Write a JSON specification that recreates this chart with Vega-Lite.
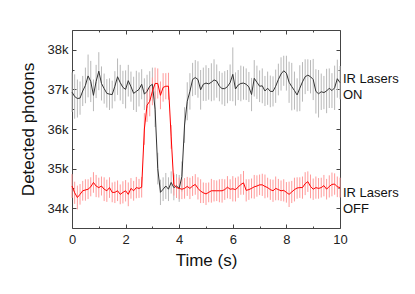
{
  "$schema": "https://vega.github.io/schema/vega-lite/v6.json",
  "width": 268,
  "height": 198,
  "autosize": {"type": "none"},
  "padding": {"left": 72, "top": 30, "right": 75, "bottom": 66},
  "background": "white",
  "config": {
    "view": {"stroke": null},
    "font": "Liberation Sans",
    "axis": {
      "grid": false,
      "domainColor": "#444444",
      "tickColor": "#444444",
      "labelColor": "#222222",
      "titleColor": "#111111",
      "labelFontSize": 13,
      "titleFontSize": 17,
      "titleFontWeight": "normal",
      "labelFlush": false
    }
  },
  "datasets": {
    "d": [
      {"t":0.0,"s":"ON","v":36930,"e":500},{"t":0.1,"s":"ON","v":36820,"e":560},{"t":0.2,"s":"ON","v":36770,"e":480},{"t":0.3,"s":"ON","v":36780,"e":420},{"t":0.4,"s":"ON","v":36960,"e":380},{"t":0.5,"s":"ON","v":37100,"e":450},{"t":0.6,"s":"ON","v":37340,"e":540},{"t":0.7,"s":"ON","v":37200,"e":520},{"t":0.8,"s":"ON","v":36850,"e":400},{"t":0.9,"s":"ON","v":37200,"e":420},
      {"t":1.0,"s":"ON","v":37460,"e":480},{"t":1.1,"s":"ON","v":37150,"e":430},{"t":1.2,"s":"ON","v":37020,"e":380},{"t":1.3,"s":"ON","v":36900,"e":360},{"t":1.4,"s":"ON","v":36880,"e":400},{"t":1.5,"s":"ON","v":36870,"e":350},{"t":1.6,"s":"ON","v":37080,"e":380},{"t":1.7,"s":"ON","v":37320,"e":460},{"t":1.8,"s":"ON","v":37170,"e":450},{"t":1.9,"s":"ON","v":37050,"e":420},
      {"t":2.0,"s":"ON","v":37000,"e":480},{"t":2.1,"s":"ON","v":37220,"e":400},{"t":2.2,"s":"ON","v":37070,"e":380},{"t":2.3,"s":"ON","v":36900,"e":420},{"t":2.4,"s":"ON","v":36950,"e":520},{"t":2.5,"s":"ON","v":37000,"e":430},{"t":2.6,"s":"ON","v":37130,"e":380},{"t":2.7,"s":"ON","v":36880,"e":400},{"t":2.8,"s":"ON","v":36950,"e":420},{"t":2.9,"s":"ON","v":37080,"e":380},
      {"t":3.0,"s":"ON","v":37130,"e":420},{"t":3.1,"s":"ON","v":36500,"e":450},{"t":3.2,"s":"ON","v":35000,"e":400},{"t":3.3,"s":"ON","v":34400,"e":320},{"t":3.4,"s":"ON","v":34480,"e":300},{"t":3.5,"s":"ON","v":34560,"e":330},{"t":3.6,"s":"ON","v":34480,"e":300},{"t":3.7,"s":"ON","v":34650,"e":280},{"t":3.8,"s":"ON","v":34520,"e":320},{"t":3.9,"s":"ON","v":34560,"e":300},
      {"t":4.0,"s":"ON","v":34500,"e":340},{"t":4.1,"s":"ON","v":34800,"e":380},{"t":4.2,"s":"ON","v":36100,"e":450},{"t":4.3,"s":"ON","v":36700,"e":480},{"t":4.4,"s":"ON","v":36950,"e":460},{"t":4.5,"s":"ON","v":37250,"e":420},{"t":4.6,"s":"ON","v":37300,"e":440},{"t":4.7,"s":"ON","v":37250,"e":460},{"t":4.8,"s":"ON","v":36990,"e":500},{"t":4.9,"s":"ON","v":37130,"e":420},
      {"t":5.0,"s":"ON","v":37160,"e":450},{"t":5.1,"s":"ON","v":37140,"e":400},{"t":5.2,"s":"ON","v":37180,"e":480},{"t":5.3,"s":"ON","v":37240,"e":520},{"t":5.4,"s":"ON","v":37210,"e":420},{"t":5.5,"s":"ON","v":37080,"e":380},{"t":5.6,"s":"ON","v":37020,"e":400},{"t":5.7,"s":"ON","v":37020,"e":440},{"t":5.8,"s":"ON","v":37070,"e":420},{"t":5.9,"s":"ON","v":37170,"e":460},
      {"t":6.0,"s":"ON","v":37380,"e":680},{"t":6.1,"s":"ON","v":37010,"e":420},{"t":6.2,"s":"ON","v":37110,"e":380},{"t":6.3,"s":"ON","v":37150,"e":450},{"t":6.4,"s":"ON","v":37160,"e":420},{"t":6.5,"s":"ON","v":37130,"e":400},{"t":6.6,"s":"ON","v":37060,"e":380},{"t":6.7,"s":"ON","v":36870,"e":420},{"t":6.8,"s":"ON","v":37280,"e":460},{"t":6.9,"s":"ON","v":37180,"e":420},
      {"t":7.0,"s":"ON","v":37080,"e":400},{"t":7.1,"s":"ON","v":37090,"e":440},{"t":7.2,"s":"ON","v":36960,"e":380},{"t":7.3,"s":"ON","v":37030,"e":420},{"t":7.4,"s":"ON","v":36950,"e":400},{"t":7.5,"s":"ON","v":36950,"e":380},{"t":7.6,"s":"ON","v":37080,"e":420},{"t":7.7,"s":"ON","v":37250,"e":400},{"t":7.8,"s":"ON","v":37390,"e":420},{"t":7.9,"s":"ON","v":37470,"e":380},
      {"t":8.0,"s":"ON","v":37410,"e":440},{"t":8.1,"s":"ON","v":37180,"e":520},{"t":8.2,"s":"ON","v":37070,"e":600},{"t":8.3,"s":"ON","v":36970,"e":480},{"t":8.4,"s":"ON","v":36860,"e":420},{"t":8.5,"s":"ON","v":37030,"e":580},{"t":8.6,"s":"ON","v":37190,"e":500},{"t":8.7,"s":"ON","v":37320,"e":440},{"t":8.8,"s":"ON","v":37360,"e":400},{"t":8.9,"s":"ON","v":37320,"e":420},
      {"t":9.0,"s":"ON","v":37250,"e":520},{"t":9.1,"s":"ON","v":36950,"e":560},{"t":9.2,"s":"ON","v":36890,"e":600},{"t":9.3,"s":"ON","v":36940,"e":460},{"t":9.4,"s":"ON","v":36920,"e":420},{"t":9.5,"s":"ON","v":36960,"e":560},{"t":9.6,"s":"ON","v":37030,"e":500},{"t":9.7,"s":"ON","v":36970,"e":440},{"t":9.8,"s":"ON","v":37040,"e":560},{"t":9.9,"s":"ON","v":37270,"e":480},
      {"t":10.0,"s":"ON","v":37170,"e":420},
      {"t":0.0,"s":"OFF","v":34560,"e":300},{"t":0.1,"s":"OFF","v":34390,"e":280},{"t":0.2,"s":"OFF","v":34270,"e":300},{"t":0.3,"s":"OFF","v":34350,"e":260},{"t":0.4,"s":"OFF","v":34440,"e":250},{"t":0.5,"s":"OFF","v":34460,"e":270},{"t":0.6,"s":"OFF","v":34480,"e":250},{"t":0.7,"s":"OFF","v":34540,"e":240},{"t":0.8,"s":"OFF","v":34650,"e":260},{"t":0.9,"s":"OFF","v":34560,"e":280},
      {"t":1.0,"s":"OFF","v":34520,"e":250},{"t":1.1,"s":"OFF","v":34560,"e":240},{"t":1.2,"s":"OFF","v":34480,"e":300},{"t":1.3,"s":"OFF","v":34440,"e":280},{"t":1.4,"s":"OFF","v":34520,"e":260},{"t":1.5,"s":"OFF","v":34400,"e":250},{"t":1.6,"s":"OFF","v":34400,"e":270},{"t":1.7,"s":"OFF","v":34440,"e":260},{"t":1.8,"s":"OFF","v":34350,"e":250},{"t":1.9,"s":"OFF","v":34400,"e":280},
      {"t":2.0,"s":"OFF","v":34440,"e":270},{"t":2.1,"s":"OFF","v":34350,"e":300},{"t":2.2,"s":"OFF","v":34500,"e":260},{"t":2.3,"s":"OFF","v":34440,"e":250},{"t":2.4,"s":"OFF","v":34520,"e":270},{"t":2.5,"s":"OFF","v":34500,"e":240},{"t":2.6,"s":"OFF","v":34530,"e":260},{"t":2.7,"s":"OFF","v":36000,"e":400},{"t":2.8,"s":"OFF","v":36600,"e":420},{"t":2.9,"s":"OFF","v":36700,"e":380},
      {"t":3.0,"s":"OFF","v":36950,"e":350},{"t":3.1,"s":"OFF","v":37150,"e":400},{"t":3.2,"s":"OFF","v":37150,"e":380},{"t":3.3,"s":"OFF","v":36850,"e":350},{"t":3.4,"s":"OFF","v":37050,"e":360},{"t":3.5,"s":"OFF","v":37080,"e":330},{"t":3.6,"s":"OFF","v":37080,"e":340},{"t":3.7,"s":"OFF","v":35800,"e":300},{"t":3.8,"s":"OFF","v":34600,"e":280},{"t":3.9,"s":"OFF","v":34520,"e":260},
      {"t":4.0,"s":"OFF","v":34500,"e":270},{"t":4.1,"s":"OFF","v":34480,"e":250},{"t":4.2,"s":"OFF","v":34500,"e":260},{"t":4.3,"s":"OFF","v":34550,"e":240},{"t":4.4,"s":"OFF","v":34500,"e":270},{"t":4.5,"s":"OFF","v":34560,"e":250},{"t":4.6,"s":"OFF","v":34600,"e":260},{"t":4.7,"s":"OFF","v":34500,"e":280},{"t":4.8,"s":"OFF","v":34430,"e":300},{"t":4.9,"s":"OFF","v":34390,"e":260},
      {"t":5.0,"s":"OFF","v":34360,"e":280},{"t":5.1,"s":"OFF","v":34400,"e":250},{"t":5.2,"s":"OFF","v":34440,"e":300},{"t":5.3,"s":"OFF","v":34440,"e":270},{"t":5.4,"s":"OFF","v":34440,"e":260},{"t":5.5,"s":"OFF","v":34440,"e":290},{"t":5.6,"s":"OFF","v":34440,"e":300},{"t":5.7,"s":"OFF","v":34470,"e":260},{"t":5.8,"s":"OFF","v":34530,"e":280},{"t":5.9,"s":"OFF","v":34480,"e":250},
      {"t":6.0,"s":"OFF","v":34490,"e":320},{"t":6.1,"s":"OFF","v":34470,"e":300},{"t":6.2,"s":"OFF","v":34530,"e":270},{"t":6.3,"s":"OFF","v":34600,"e":260},{"t":6.4,"s":"OFF","v":34640,"e":300},{"t":6.5,"s":"OFF","v":34450,"e":280},{"t":6.6,"s":"OFF","v":34470,"e":260},{"t":6.7,"s":"OFF","v":34500,"e":250},{"t":6.8,"s":"OFF","v":34540,"e":300},{"t":6.9,"s":"OFF","v":34560,"e":270},
      {"t":7.0,"s":"OFF","v":34590,"e":260},{"t":7.1,"s":"OFF","v":34590,"e":280},{"t":7.2,"s":"OFF","v":34550,"e":300},{"t":7.3,"s":"OFF","v":34520,"e":250},{"t":7.4,"s":"OFF","v":34470,"e":260},{"t":7.5,"s":"OFF","v":34440,"e":280},{"t":7.6,"s":"OFF","v":34500,"e":300},{"t":7.7,"s":"OFF","v":34470,"e":270},{"t":7.8,"s":"OFF","v":34440,"e":260},{"t":7.9,"s":"OFF","v":34450,"e":280},
      {"t":8.0,"s":"OFF","v":34400,"e":260},{"t":8.1,"s":"OFF","v":34350,"e":320},{"t":8.2,"s":"OFF","v":34410,"e":280},{"t":8.3,"s":"OFF","v":34470,"e":300},{"t":8.4,"s":"OFF","v":34510,"e":270},{"t":8.5,"s":"OFF","v":34520,"e":260},{"t":8.6,"s":"OFF","v":34520,"e":280},{"t":8.7,"s":"OFF","v":34620,"e":290},{"t":8.8,"s":"OFF","v":34670,"e":260},{"t":8.9,"s":"OFF","v":34550,"e":300},
      {"t":9.0,"s":"OFF","v":34480,"e":270},{"t":9.1,"s":"OFF","v":34520,"e":280},{"t":9.2,"s":"OFF","v":34500,"e":260},{"t":9.3,"s":"OFF","v":34520,"e":250},{"t":9.4,"s":"OFF","v":34570,"e":270},{"t":9.5,"s":"OFF","v":34480,"e":260},{"t":9.6,"s":"OFF","v":34550,"e":280},{"t":9.7,"s":"OFF","v":34600,"e":300},{"t":9.8,"s":"OFF","v":34610,"e":270},{"t":9.9,"s":"OFF","v":34540,"e":260},
      {"t":10.0,"s":"OFF","v":34520,"e":250}
    ],
    "lab": [
      {"t":10,"v":37270,"label":"IR Lasers\nON"},
      {"t":10,"v":34390,"label":"IR Lasers\nOFF"}
    ]
  },
  "data": {"name": "d"},
  "layer": [
    {
      "transform": [{"filter": "datum.s === 'ON'"}],
      "mark": {"type": "errorbar", "color": "#b8b8b8", "thickness": 1},
      "encoding": {
        "x": {"field": "t", "type": "quantitative", "scale": {"domain": [0, 10], "nice": false}, "axis": null},
        "y": {"field": "v", "type": "quantitative", "scale": {"domain": [33500, 38500], "nice": false, "zero": false}, "axis": null},
        "yError": {"field": "e"}
      }
    },
    {
      "transform": [{"filter": "datum.s === 'OFF'"}],
      "mark": {"type": "errorbar", "color": "#ff9a9a", "thickness": 1},
      "encoding": {
        "x": {"field": "t", "type": "quantitative", "axis": null},
        "y": {"field": "v", "type": "quantitative", "axis": null},
        "yError": {"field": "e"}
      }
    },
    {
      "transform": [{"filter": "datum.s === 'ON'"}],
      "mark": {"type": "line", "color": "#333333", "strokeWidth": 1},
      "encoding": {
        "x": {"field": "t", "type": "quantitative", "scale": {"domain": [0, 10], "nice": false},
          "axis": {"orient": "bottom", "values": [0,1,2,3,4,5,6,7,8,9,10],
            "labelExpr": "datum.value % 2 === 0 ? datum.label : ''",
            "tickSize": {"condition": {"test": "datum.value % 2 === 0", "value": -4}, "value": -2},
            "labelPadding": 9, "title": "Time (s)", "titlePadding": 6}},
        "y": {"field": "v", "type": "quantitative", "scale": {"domain": [33500, 38500], "nice": false, "zero": false},
          "axis": {"orient": "left", "values": [34000,34500,35000,35500,36000,36500,37000,37500,38000],
            "labelExpr": "datum.value % 1000 === 0 ? (datum.value / 1000) + 'k' : ''",
            "tickSize": {"condition": {"test": "datum.value % 1000 === 0", "value": -4}, "value": -2},
            "labelPadding": 8, "title": "Detected photons", "titlePadding": 10}}
      }
    },
    {
      "transform": [{"filter": "datum.s === 'OFF'"}],
      "mark": {"type": "line", "color": "#ff0000", "strokeWidth": 1},
      "encoding": {
        "x": {"field": "t", "type": "quantitative",
          "axis": {"orient": "top", "values": [0,1,2,3,4,5,6,7,8,9,10], "labels": false, "title": null,
            "tickSize": {"condition": {"test": "datum.value % 2 === 0", "value": -4}, "value": -2}}},
        "y": {"field": "v", "type": "quantitative",
          "axis": {"orient": "right", "values": [34000,34500,35000,35500,36000,36500,37000,37500,38000], "labels": false, "title": null,
            "tickSize": {"condition": {"test": "datum.value % 1000 === 0", "value": -4}, "value": -2}}}
      }
    },
    {
      "data": {"name": "lab"},
      "mark": {"type": "text", "align": "left", "baseline": "middle", "dx": 3, "fontSize": 13, "lineBreak": "\n", "lineHeight": 16, "color": "#111111"},
      "encoding": {
        "x": {"field": "t", "type": "quantitative", "axis": null},
        "y": {"field": "v", "type": "quantitative", "axis": null},
        "text": {"field": "label"}
      }
    }
  ],
  "resolve": {"axis": {"x": "independent", "y": "independent"}}
}
